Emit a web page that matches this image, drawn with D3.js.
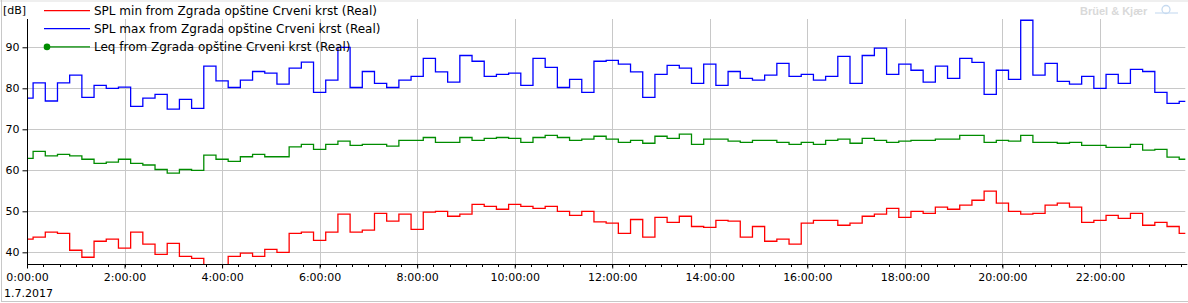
<!DOCTYPE html>
<html>
<head>
<meta charset="utf-8">
<script src="https://cdn.jsdelivr.net/npm/d3@7"></script>
<style>
  html, body { margin: 0; padding: 0; background: #ffffff; }
  svg { display: block; }
  text { font-family: "DejaVu Sans", sans-serif; font-size: 11px; fill: #000; }
</style>
</head>
<body>
<svg id="chart" width="1188" height="303"></svg>
<script>
// ---- data (15-minute intervals, 1.7.2017) ----
const startTime = "2017-07-01T00:00:00";
const intervalMinutes = 15;

const splMin = [
  43.2, 43.7, 44.9, 44.6, 40.5, 38.8, 42.7, 43.2, 41.0, 44.9, 42.0, 39.5, 42.2, 39.0, 38.5, 36.0,
  36.0, 39.0, 39.8, 39.0, 40.7, 40.0, 44.6, 44.9, 42.9, 44.9, 49.3, 44.9, 45.4, 49.5, 47.6, 49.3,
  45.6, 49.8, 50.0, 48.8, 49.3, 51.7, 51.2, 50.5, 51.7, 51.2, 50.7, 51.2, 50.0, 49.0, 50.0, 47.4,
  47.1, 44.6, 48.0, 43.7, 48.5, 47.3, 48.8, 46.3, 46.1, 47.8, 47.6, 43.7, 46.3, 42.7, 43.2, 42.0,
  47.1, 47.8, 47.8, 46.6, 47.1, 48.8, 49.3, 50.7, 48.5, 50.0, 49.5, 51.0, 50.5, 51.5, 52.7, 54.9,
  52.0, 50.0, 49.3, 49.5, 51.5, 52.0, 51.0, 47.3, 47.8, 49.0, 48.3, 49.5, 46.6, 47.3, 46.3, 44.6
];
const splMax = [
  77.6, 81.3, 76.9, 81.3, 83.2, 77.8, 80.7, 80.0, 80.3, 75.6, 77.6, 78.5, 74.9, 77.3, 75.1, 85.4,
  81.8, 80.2, 82.0, 84.1, 83.7, 81.0, 84.9, 86.4, 79.0, 82.0, 90.0, 80.2, 84.1, 81.2, 80.2, 82.0,
  82.9, 87.3, 84.0, 81.5, 88.0, 86.6, 82.9, 83.4, 83.7, 80.7, 87.3, 85.1, 80.2, 82.2, 79.0, 86.6,
  86.8, 85.9, 84.0, 77.8, 83.4, 85.6, 84.9, 81.2, 85.9, 80.7, 84.1, 82.4, 82.0, 83.2, 86.1, 82.9,
  83.4, 82.0, 82.9, 87.8, 81.2, 88.0, 89.8, 83.4, 85.9, 84.4, 81.5, 85.4, 82.4, 87.3, 86.3, 78.5,
  84.4, 82.2, 96.6, 83.2, 86.1, 81.7, 81.0, 82.9, 80.0, 83.4, 81.2, 84.6, 84.1, 79.0, 76.3, 76.8
];
const leq = [
  62.9, 64.6, 63.5, 63.9, 63.5, 62.7, 61.7, 62.0, 62.7, 61.7, 61.3, 60.2, 59.3, 60.2, 60.0, 63.7,
  62.7, 62.2, 63.3, 63.9, 63.3, 63.3, 65.7, 66.3, 65.1, 66.3, 67.1, 66.1, 66.3, 66.3, 65.9, 67.3,
  67.3, 68.0, 66.8, 66.8, 68.0, 67.3, 67.8, 68.0, 67.8, 66.8, 68.0, 68.5, 68.0, 67.3, 67.6, 68.3,
  67.6, 66.8, 67.3, 66.6, 68.3, 67.8, 68.8, 66.3, 67.6, 67.6, 67.1, 66.8, 67.3, 67.3, 66.8, 66.3,
  66.8, 66.3, 67.3, 67.6, 66.6, 67.8, 67.3, 66.8, 67.1, 67.3, 67.3, 67.6, 67.6, 68.5, 68.5, 66.8,
  67.3, 67.1, 68.5, 66.8, 66.8, 66.6, 66.8, 66.1, 66.1, 65.6, 65.6, 66.3, 64.9, 65.1, 63.2, 62.7
];

const seriesNames = [
  "SPL min from Zgrada opštine Crveni krst (Real)",
  "SPL max from Zgrada opštine Crveni krst (Real)",
  "Leq from Zgrada opštine Crveni krst (Real)"
];
const seriesColors = ["#ff0000", "#0000ff", "#008c00"];
const yTicks = [40, 50, 60, 70, 80, 90];
const xTickLabels = ["0:00:00", "2:00:00", "4:00:00", "6:00:00", "8:00:00", "10:00:00",
                     "12:00:00", "14:00:00", "16:00:00", "18:00:00", "20:00:00", "22:00:00"];
const dateLabel = "1.7.2017";
const yUnit = "[dB]";

// ---- layout ----
const svg = d3.select("#chart");
const W = 1188, H = 303;
const plot = { left: 27, right: 1185.3, top: 19, bottom: 264 };

const t0 = new Date(startTime);
const times = splMin.map((_, i) => d3.timeMinute.offset(t0, i * intervalMinutes));

const x = d3.scaleTime()
  .domain([times[0], times[times.length - 1]])
  .range([plot.left, plot.right]);
const y = d3.scaleLinear()
  .domain([37.15, 96.9])
  .range([plot.bottom, plot.top]);

// frame
svg.append("rect").attr("x", 0).attr("y", 0).attr("width", W).attr("height", 2).attr("fill", "#efefef");
svg.append("line").attr("x1", 1.5).attr("x2", 1.5).attr("y1", 0).attr("y2", 302)
  .attr("stroke", "#c8c8c8");
svg.append("line").attr("x1", 1).attr("x2", W).attr("y1", 301.5).attr("y2", 301.5)
  .attr("stroke", "#c8c8c8");

// gridlines
const majorTicks = d3.timeHour.every(2).range(times[0], d3.timeMinute.offset(times[times.length - 1], 1));
svg.append("g").selectAll("line.vg").data(majorTicks).join("line")
  .attr("x1", d => Math.round(x(d)) + 0.5).attr("x2", d => Math.round(x(d)) + 0.5)
  .attr("y1", plot.top).attr("y2", plot.bottom)
  .attr("stroke", "#c8c8c8").attr("stroke-width", 1);
svg.append("g").selectAll("line.hg").data(yTicks).join("line")
  .attr("x1", plot.left).attr("x2", plot.right)
  .attr("y1", d => Math.round(y(d)) + 0.5).attr("y2", d => Math.round(y(d)) + 0.5)
  .attr("stroke", "#c8c8c8").attr("stroke-width", 1);

// watermark
svg.append("text").attr("x", 1080).attr("y", 15)
  .style("font-family", "'Liberation Sans', sans-serif").style("font-weight", "bold")
  .style("font-size", "11px").style("fill", "#d9d9d9").text("Brüel & Kjær");
const logo = svg.append("g").attr("transform", "translate(1166,9.5)");
logo.append("circle").attr("r", 4).attr("fill", "none").attr("stroke", "#c6daf0").attr("stroke-width", 1.3);
logo.append("line").attr("x1", -11).attr("x2", 12).attr("y1", 3.5).attr("y2", 3.5).attr("stroke", "#c6daf0").attr("stroke-width", 1.1);

// lines
svg.append("defs").append("clipPath").attr("id", "clip")
  .append("rect").attr("x", plot.left).attr("y", plot.top)
  .attr("width", plot.right - plot.left + 1).attr("height", plot.bottom - plot.top);

const line = d3.line()
  .x((d, i) => x(times[i]))
  .y(d => y(d))
  .curve(d3.curveStep);

const series = [splMin, splMax, leq];
const lg = svg.append("g").attr("clip-path", "url(#clip)");
series.forEach((s, k) => {
  lg.append("path").datum(s)
    .attr("d", line)
    .attr("fill", "none")
    .attr("stroke", seriesColors[k])
    .attr("stroke-width", 1.3);
});

// y axis
const yAxis = d3.axisLeft(y).tickValues(yTicks).tickSize(5).tickPadding(3).tickFormat(d3.format("d"));
const yg = svg.append("g").attr("transform", `translate(${plot.left + 0.5},0)`).call(yAxis);
yg.select(".domain").attr("d", `M0,${plot.top}V${plot.bottom}`).attr("stroke", "#000");
yg.selectAll("text").style("font-size", "11px");

// x axis
const xAxis = d3.axisBottom(x).tickValues(majorTicks).tickSize(4).tickPadding(5)
  .tickFormat((d, i) => xTickLabels[i]);
const xg = svg.append("g").attr("transform", `translate(0,${plot.bottom + 0.5})`).call(xAxis);
xg.select(".domain").attr("d", `M${plot.left},0H${plot.right + 2}`).attr("stroke", "#000");
xg.selectAll("text").style("font-size", "11px");
const minorTicks = d3.timeMinute.every(20).range(times[0], times[times.length - 1]);
xg.append("g").selectAll("line").data(minorTicks).join("line")
  .attr("x1", d => Math.round(x(d)) + 0.5).attr("x2", d => Math.round(x(d)) + 0.5)
  .attr("y1", 0).attr("y2", 2.5).attr("stroke", "#000");

svg.append("text").attr("x", 4).attr("y", 297).text(dateLabel);
svg.append("text").attr("x", 3).attr("y", 14).text(yUnit);

// legend
const legend = svg.append("g");
seriesNames.forEach((name, k) => {
  const ly = 10.5 + k * 18.2;
  legend.append("line").attr("x1", 44).attr("x2", 90).attr("y1", ly).attr("y2", ly)
    .attr("stroke", seriesColors[k]).attr("stroke-width", 1.25);
  if (k === 2) {
    legend.append("circle").attr("cx", 47).attr("cy", ly).attr("r", 3.3).attr("fill", seriesColors[k]);
  }
  legend.append("text").attr("x", 94).attr("y", ly + 4.5).style("font-size", "12px").text(name);
});
</script>
</body>
</html>
